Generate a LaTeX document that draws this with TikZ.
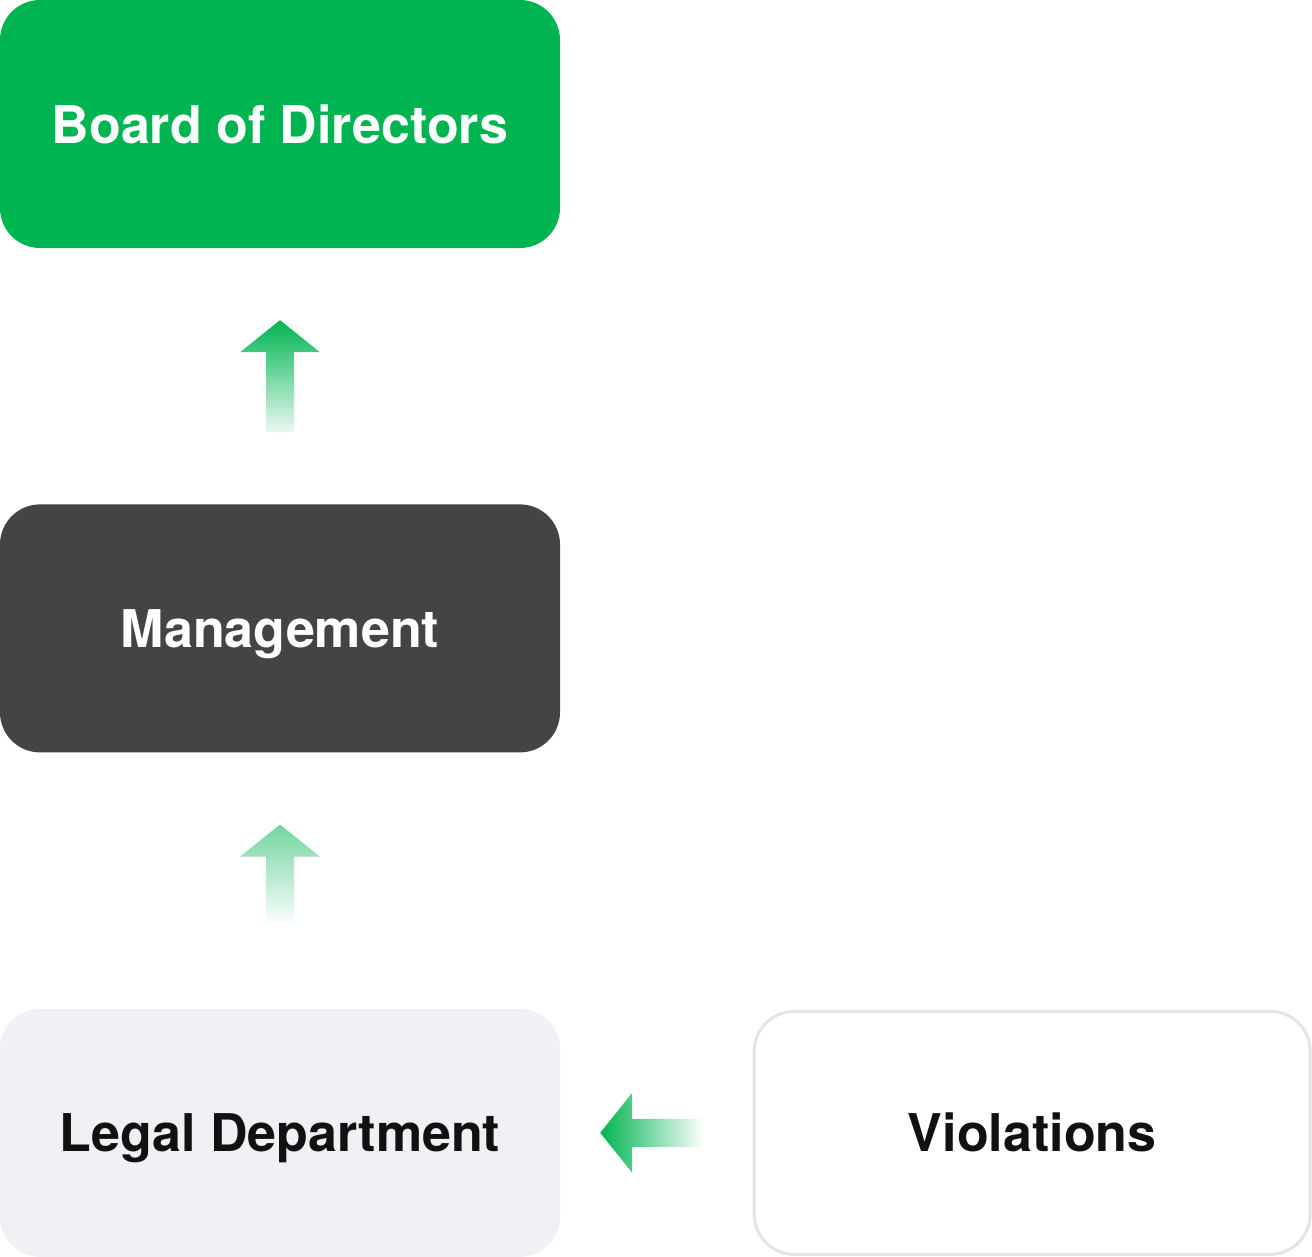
\documentclass[tikz,border=0pt]{standalone}
\usepackage{fontspec}
\setmainfont{TeX Gyre Heros}
\usetikzlibrary{positioning,calc}
\definecolor{brandgreen}{HTML}{00B451}
\definecolor{darkbox}{HTML}{444444}
\definecolor{lightbox}{HTML}{F0F0F5}
\definecolor{inkdark}{HTML}{111111}
\definecolor{rimgray}{HTML}{E4E4E7}
\tikzset{
    box/.style={rounded corners=40pt, minimum width=560pt, minimum height=248pt,
        inner sep=0pt, text height=38pt, text depth=0pt,
        font=\fontsize{52}{60}\selectfont\bfseries},
    greenbox/.style={box, fill=brandgreen, text=white},
    darkbox/.style={box, fill=darkbox, text=white},
    lightbox/.style={box, fill=lightbox, text=inkdark},
    rimbox/.style={box, fill=white, draw=rimgray, line width=3pt,
        minimum width=556pt, minimum height=243pt, text=inkdark},
}

\begin{document}
\begin{tikzpicture}[x=1pt, y=-1pt]
    \useasboundingbox (0,0) rectangle (1312,1256);
    \node[greenbox] (board) at (280,124) {Board of Directors};
    \node[darkbox, below=256pt of board] (mgmt) {Management};
    \node[lightbox, below=256pt of mgmt] (legal) {Legal Department};
    \node[rimbox, right=192.5pt of legal] (viol) {Violations};
    % arrows between the boxes
    \coordinate (up1) at ($(board.south)!0.5!(mgmt.north)$);
    \coordinate (up2) at ($(mgmt.south)!0.5!(legal.north)$);
    \coordinate (lt1) at ($(legal.east)+(40,0)$);
    \shade[top color=brandgreen, bottom color=brandgreen!8] ($(up1)+(0,-56)$) -- ++(40,32) -- ++(-26,0) -- ++(0,80) -- ++(-28,0) -- ++(0,-80) -- ++(-26,0) -- cycle;
    \shade[top color=brandgreen!55, bottom color=white] ($(up2)+(0,-56)$) -- ++(40,32) -- ++(-26,0) -- ++(0,70) -- ++(-28,0) -- ++(0,-70) -- ++(-26,0) -- cycle;
    \shade[left color=brandgreen, right color=white] (lt1) -- ++(32,-40) -- ++(0,26) -- ++(72,0) -- ++(0,28) -- ++(-72,0) -- ++(0,26) -- cycle;
\end{tikzpicture}
\end{document}
